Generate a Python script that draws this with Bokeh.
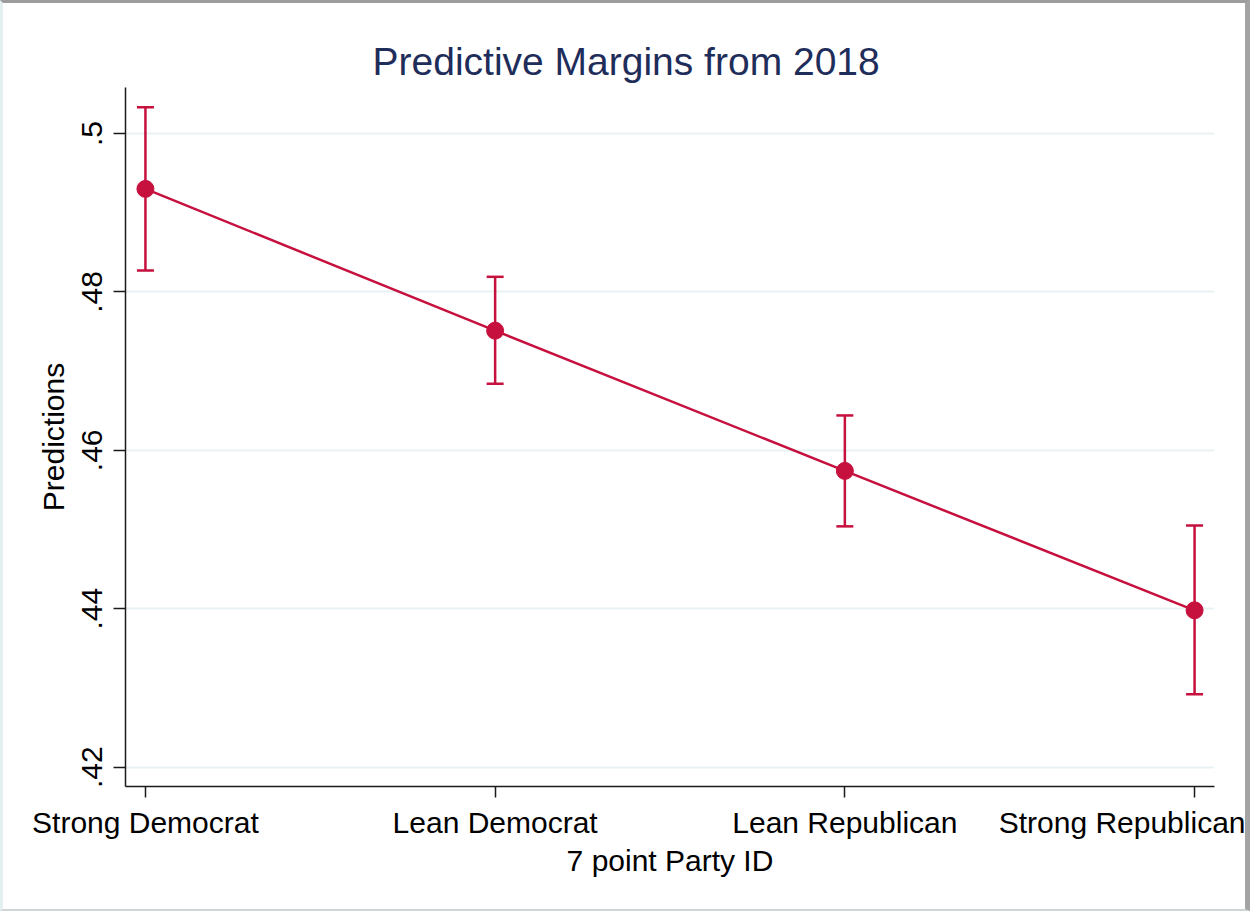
from bokeh.plotting import figure
from bokeh.models import (Range1d, FixedTicker, Whisker, TeeHead, ColumnDataSource,
                          InlineStyleSheet)
from bokeh.embed import file_html
from bokeh.resources import INLINE

# ---- data ----
categories = ["Strong Democrat", "Lean Democrat", "Lean Republican", "Strong Republican"]
x_pos = [0, 1, 2, 3]
predictions = [0.4930, 0.4751, 0.4574, 0.4398]
ci_upper = [0.5033, 0.4819, 0.4644, 0.4505]
ci_lower = [0.4827, 0.4684, 0.4504, 0.4292]
y_ticks = [0.42, 0.44, 0.46, 0.48, 0.50]
y_tick_labels = [".42", ".44", ".46", ".48", ".5"]

RED = "#C6103D"
FONT = "Liberation Sans"

src = ColumnDataSource(dict(x=x_pos, y=predictions, upper=ci_upper, lower=ci_lower))

BT, BL, BR, BB = 3, 3, 5, 2          # page frame borders (px)
W, H = 1250, 911
FL, FR, FT, FB = 125 - BL, 1214 - BL, 87 - BT, 786 - BT   # frame edges on canvas
Y0, Y1 = 0.41756, 0.5058

p = figure(width=W, height=H, output_backend="svg", toolbar_location=None,
           x_range=Range1d(-0.057, 3.057), y_range=Range1d(Y0, Y1),
           min_border_left=FL, min_border_right=W - FR,
           min_border_top=FT, min_border_bottom=H - FB,
           title="Predictive Margins from 2018")
p.stylesheets = [InlineStyleSheet(css=(
    ":host { border-top: %dpx solid #9d9d9d; border-left: %dpx solid #e4eff0;"
    " border-right: %dpx solid #a4a4a4; border-bottom: %dpx solid #cfd5d6; }"
) % (BT, BL, BR, BB))]
p.outline_line_color = None
p.background_fill_color = "white"
p.border_fill_color = "white"

p.title.text_font = FONT
p.title.text_font_size = "39px"
p.title.text_font_style = "normal"
p.title.text_color = "#1F2D5A"
p.title.align = "left"
p.title.offset = 372 - 125

# axes
p.xaxis.ticker = FixedTicker(ticks=x_pos)
p.xaxis.major_label_overrides = {x: c for x, c in zip(x_pos, categories)}
p.yaxis.ticker = FixedTicker(ticks=y_ticks)
p.yaxis.major_label_overrides = {t: l for t, l in zip(y_ticks, y_tick_labels)}
p.yaxis.major_label_orientation = "vertical"

for ax in (p.xaxis, p.yaxis):
    ax.axis_line_color = "#1a1a1a"
    ax.axis_line_width = 1.5
    ax.major_tick_line_color = "#1a1a1a"
    ax.major_tick_line_width = 1.5
    ax.major_tick_in = 0
    ax.minor_tick_line_color = None
    ax.major_label_text_font = FONT
    ax.major_label_text_font_size = "30px"
    ax.major_label_text_color = "black"
    ax.axis_label_text_font = FONT
    ax.axis_label_text_font_size = "30px"
    ax.axis_label_text_font_style = "normal"
    ax.axis_label_text_color = "black"

p.xaxis.major_tick_out = 11
p.yaxis.major_tick_out = 12
p.xaxis.major_label_standoff = 8
p.yaxis.major_label_standoff = 11
p.xaxis.axis_label = "7 point Party ID"
p.yaxis.axis_label = "Predictions"
p.xaxis.axis_label_standoff = 2
p.yaxis.axis_label_standoff = 10

p.xgrid.grid_line_color = None
p.ygrid.ticker = FixedTicker(ticks=y_ticks)
p.ygrid.grid_line_color = "#E8F1F3"
p.ygrid.grid_line_width = 2

# glyphs
p.line("x", "y", source=src, line_color=RED, line_width=2.5)
p.add_layout(Whisker(base="x", upper="upper", lower="lower", source=src,
                     line_color=RED, line_width=2.5,
                     upper_head=TeeHead(size=17, line_color=RED, line_width=2.5),
                     lower_head=TeeHead(size=17, line_color=RED, line_width=2.5)))
p.scatter("x", "y", source=src, size=17, fill_color=RED, line_color=RED)

open("out.html", "w").write(file_html(p, INLINE))
